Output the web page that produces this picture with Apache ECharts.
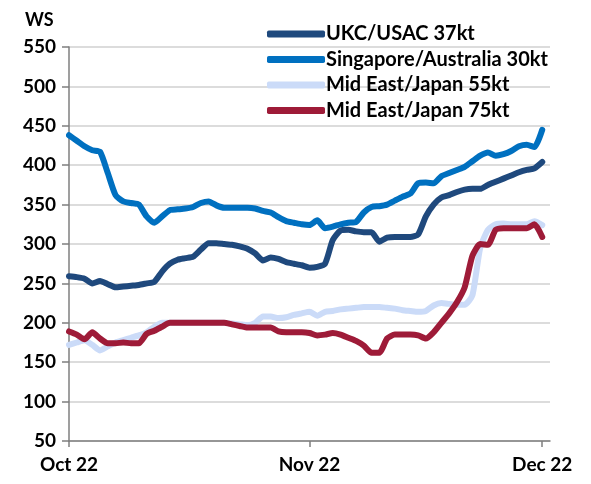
<!DOCTYPE html>
<html>
<head>
<meta charset="utf-8">
<script src="https://cdn.jsdelivr.net/npm/echarts@6/dist/echarts.min.js"></script>
<style>
  html, body { margin: 0; padding: 0; background: #fff; }
  #main { width: 591px; height: 484px; }
</style>
</head>
<body>
<div id="main"></div>
<script>
// series names, in legend order
var seriesNames = ['UKC/USAC 37kt', 'Singapore/Australia 30kt', 'Mid East/Japan 55kt', 'Mid East/Japan 75kt'];
var seriesColors = ['#1f497d', '#0070c0', '#cbdbf8', '#9e1b38'];

// daily WS values, day 0 = 1 Oct 2022 ... day 61 = 1 Dec 2022
var ukcUsac = [259, 258, 256, 250, 253, 249, 245, 246, 247, 248,
               250, 252, 265, 275, 280, 282, 284, 293, 301, 301,
               300, 299, 297, 294, 288, 279, 283, 281, 277, 275,
               273, 270, 271, 275, 305, 317, 318, 316, 315, 315,
               303, 308, 309, 309, 309, 312, 335, 350, 359, 362,
               366, 369, 370, 370, 375, 379, 383, 387, 391, 394,
               396, 404];
var singAus = [438, 431, 424, 419, 417, 390, 362, 354, 352, 350,
               335, 327, 335, 343, 344, 345, 347, 352, 354, 349,
               346, 346, 346, 346, 345, 342, 340, 334, 329, 327,
               325, 324, 330, 320, 322, 325, 327, 328, 340, 347,
               348, 350, 355, 360, 364, 377, 378, 377, 386, 390,
               394, 398, 405, 412, 416, 412, 414, 418, 424, 426,
               423, 445];
var meJapan55 = [172, 175, 178, 172, 165, 170, 175, 178, 181, 184,
                 188, 195, 200, 200, 200, 200, 200, 200, 200, 200,
                 200, 199, 198, 197, 200, 208, 208, 206, 207, 210,
                 212, 214, 209, 214, 215, 217, 218, 219, 220, 220,
                 220, 219, 218, 216, 215, 214, 215, 222, 225, 224,
                 223, 223, 235, 295, 318, 325, 326, 325, 325, 325,
                 329, 324];
var meJapan75 = [189, 185, 179, 188, 180, 174, 174, 175, 174, 174,
                 186, 190, 195, 200, 200, 200, 200, 200, 200, 200,
                 200, 198, 196, 194, 194, 194, 194, 189, 188, 188,
                 188, 187, 184, 185, 187, 185, 181, 177, 171, 162,
                 162, 180, 185, 185, 185, 184, 180, 188, 200, 212,
                 226, 245, 285, 300, 299, 318, 320, 320, 320, 320,
                 325, 309];

// x-axis ticks (day offsets from 1 Oct 2022)
var xTickDays = [0, 31, 61];
var xTickLabels = ['Oct 22', 'Nov 22', 'Dec 22'];

function withDays(vals) {
    return vals.map(function (v, i) { return [i, v]; });
}

var myChart = echarts.init(document.getElementById('main'));

var allData = [ukcUsac, singAus, meJapan55, meJapan75];
var series = allData.map(function (vals, i) {
    return {
        name: seriesNames[i],
        type: 'line',
        data: withDays(vals),
        showSymbol: false,
        smooth: 0.2,
        color: seriesColors[i],
        lineStyle: { width: 6, cap: 'round', join: 'round' },
        emphasis: { disabled: true }
    };
});

var option = {
    animation: false,
    textStyle: { fontFamily: 'Lato' },
    title: {
        text: 'WS',
        left: 20,
        top: 6,
        textStyle: { fontFamily: 'Lato', fontSize: 18, fontWeight: 'bold', color: '#000' }
    },
    legend: {
        orient: 'vertical',
        left: 262,
        top: 19,
        icon: 'roundRect',
        itemWidth: 58,
        itemHeight: 7,
        itemGap: 5.5,
        textStyle: { fontFamily: 'Lato', fontSize: 20, fontWeight: 'bold', lineHeight: 20, color: '#000', padding: [0, 0, 0, -4] },
        data: seriesNames
    },
    grid: { left: 69, right: 41, top: 47, bottom: 43, containLabel: false },
    xAxis: {
        type: 'value',
        min: 0,
        max: 62,
        axisLine: { lineStyle: { color: '#7f7f7f', width: 1.5 } },
        axisTick: { show: true, length: 6, customValues: xTickDays, lineStyle: { color: '#7f7f7f', width: 1.5 } },
        axisLabel: {
            customValues: xTickDays,
            formatter: function (val) {
                var idx = xTickDays.indexOf(val);
                return idx >= 0 ? xTickLabels[idx] : '';
            },
            margin: 14,
            fontFamily: 'Lato',
            fontSize: 19,
            fontWeight: 'bold',
            color: '#000'
        },
        splitLine: { show: false }
    },
    yAxis: {
        type: 'value',
        min: 50,
        max: 550,
        interval: 50,
        axisLine: { show: true, lineStyle: { color: '#7f7f7f', width: 1.5 } },
        axisTick: { show: true, length: 7, lineStyle: { color: '#7f7f7f', width: 1.5 } },
        axisLabel: { margin: 13, fontFamily: 'Lato', fontSize: 19, fontWeight: 'bold', color: '#000' },
        splitLine: { lineStyle: { color: '#d0d0d0', width: 1.5 } }
    },
    series: series
};

myChart.setOption(option);
</script>
</body>
</html>
